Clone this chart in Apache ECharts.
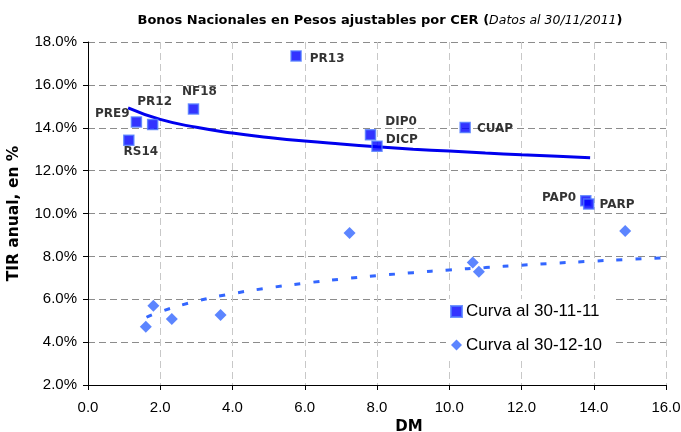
<!DOCTYPE html>
<html><head><meta charset="utf-8">
<script src="https://cdn.jsdelivr.net/npm/echarts@6/dist/echarts.min.js"></script>
<style>html,body{margin:0;padding:0;background:#fff}#c{width:681px;height:432px}</style>
</head><body><div id="c"></div>
<script>
const bondNames = ['PRE9','PR12','RS14','NF18','PR13','DIP0','DICP','CUAP','PAP0','PARP'];
const bondDM = [1.34,1.79,1.13,2.92,5.76,7.82,8.00,10.44,13.78,13.86];
const bondTIR = [14.27,14.15,13.42,14.87,17.35,13.67,13.14,14.01,10.59,10.44];
const oldDM = [1.60,1.81,2.32,3.67,7.24,10.65,10.82,14.87];
const oldTIR = [4.72,5.70,5.08,5.26,9.09,7.72,7.28,9.18];
const trend1DM = [1.11,2,3,4,5,6,7,8,9,10,11,12,13,13.9];
const trend1TIR = [14.93,14.39,14.02,13.75,13.55,13.38,13.24,13.11,13.00,12.91,12.82,12.74,12.67,12.60];
const trend2DM = [1.62,2,3,4,5,6,7,8,9,10,11,12,13,14,15,16];
const trend2TIR = [5.16,5.42,5.91,6.26,6.53,6.75,6.94,7.10,7.24,7.37,7.48,7.59,7.69,7.78,7.86,7.94];
const legendNames = ['Curva al 30-11-11','Curva al 30-12-10'];

const FONT = 'Arial, "Liberation Sans", sans-serif';
const WFONT = '"DejaVu Sans", Arial, sans-serif';
const labelCfg = {
  PRE9: {position:'left', offset:[4,-8]},
  PR12: {position:'top', offset:[2,-6]},
  RS14: {position:'bottom', offset:[12,-5]},
  NF18: {position:'top', offset:[6,0]},
  PR13: {position:'right', offset:[3,3]},
  DIP0: {position:'right', offset:[4,-13]},
  DICP: {position:'right', offset:[-2,-6]},
  CUAP: {position:'right', offset:[1,1]},
  PAP0: {position:'left', offset:[1,-3]},
  PARP: {position:'right', offset:[0,1]}
};
const bondData = bondNames.map((n,i)=>({
  name:n, value:[bondDM[i], bondTIR[i]],
  label:{show:true, formatter:n, position:labelCfg[n].position, offset:labelCfg[n].offset,
    fontFamily:WFONT, fontWeight:'bold', fontSize:12, color:'#000', textBorderWidth:0}
}));

const chart = echarts.init(document.getElementById('c'), null, {renderer:'canvas'});
chart.setOption({
  animation:false,
  backgroundColor:'#fff',
  title:{
    text:'{b|Bonos Nacionales en Pesos ajustables por CER (}{i|Datos al 30/11/2011}{b|)}',
    left:375, top:9, textAlign:'center',
    textStyle:{rich:{
      b:{fontFamily:WFONT, fontWeight:'bold', fontSize:13, color:'#000'},
      i:{fontFamily:WFONT, fontWeight:'normal', fontStyle:'italic', fontSize:12.5, color:'#000'}
    }}
  },
  grid:{left:88, right:15, top:42, bottom:47, outerBoundsMode:'none', containLabel:false},
  legend:{
    data:[{name:legendNames[0], icon:'rect'},{name:legendNames[1], icon:'diamond'}],
    orient:'vertical', left:446, top:299, itemWidth:11, itemHeight:11, itemGap:16.5,
    backgroundColor:'#fff', padding:[4,10,4,4],
    textStyle:{fontFamily:FONT, fontSize:17, color:'#000', padding:[0,0,0,-1]}
  },
  xAxis:{
    type:'value', min:0, max:16, interval:2,
    name:'DM', nameLocation:'middle', nameGap:31,
    nameTextStyle:{fontFamily:WFONT, fontWeight:'bold', fontSize:15, color:'#000', padding:[0,0,0,64]},
    axisLine:{onZero:false, lineStyle:{color:'#000', width:1}},
    axisTick:{show:true, length:5, lineStyle:{color:'#000'}},
    axisLabel:{fontFamily:FONT, fontSize:15, color:'#000', margin:15, formatter:v=>v.toFixed(1)},
    splitLine:{show:true, lineStyle:{color:'#c8c8c8', type:[7,4], width:1}}
  },
  yAxis:{
    type:'value', min:2, max:18, interval:2,
    name:'TIR anual, en %', nameLocation:'middle', nameGap:66,
    nameTextStyle:{fontFamily:WFONT, fontWeight:'bold', fontSize:15.5, color:'#000'},
    axisLine:{show:true, onZero:false, lineStyle:{color:'#000', width:1}},
    axisTick:{show:true, length:5, lineStyle:{color:'#000'}},
    axisLabel:{fontFamily:FONT, fontSize:15, color:'#000', margin:11, formatter:v=>v.toFixed(1)+'%'},
    splitLine:{show:true, lineStyle:{color:'#8c8c8c', type:[7,4], width:1}}
  },
  series:[
    {
      name:'trend1', type:'line', smooth:true, showSymbol:false, silent:true,
      data:trend1DM.map((x,i)=>[x, trend1TIR[i]]),
      lineStyle:{color:'#0000ee', width:3}, z:2
    },
    {
      name:'trend2', type:'line', smooth:true, showSymbol:false, silent:true,
      data:trend2DM.map((x,i)=>[x, trend2TIR[i]]),
      lineStyle:{color:'#3366ff', width:3, type:[6,13]}, z:2
    },
    {
      name:legendNames[1], type:'scatter', symbol:'diamond', symbolSize:12,
      data:oldDM.map((x,i)=>[x, oldTIR[i]]),
      itemStyle:{color:'#3366ff'}, z:3
    },
    {
      name:legendNames[0], type:'scatter', symbol:'rect', symbolSize:10,
      data:bondData,
      itemStyle:{color:'#0000ff', borderColor:'#4f7bff', borderWidth:1.5}, z:4
    }
  ]
});
</script>
</body></html>
